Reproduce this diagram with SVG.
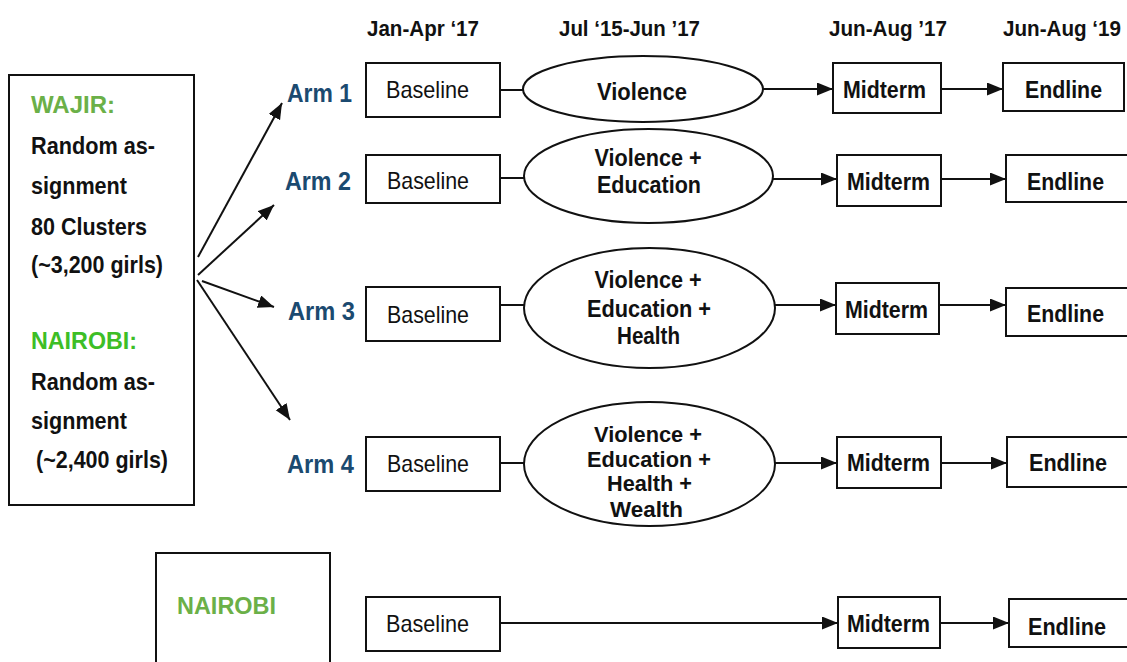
<svg xmlns="http://www.w3.org/2000/svg" width="1127" height="662" viewBox="0 0 1127 662">
<style>
text{font-family:"Liberation Sans",Arial,sans-serif;fill:#111}
.b{font-weight:bold}
.h{font-size:22px;font-weight:bold}
.lt{font-size:24px;font-weight:bold}
.arm{font-size:26px;font-weight:bold;fill:#1b4a70}
.reg{font-size:24px}
.bx{font-size:24px;font-weight:bold}
.el{font-size:24px;font-weight:bold;text-anchor:middle}
.el4{font-size:21.5px;font-weight:bold;text-anchor:middle}
.g1{fill:#6bb048}
.g2{fill:#3dbe26}
.box{fill:#fff;stroke:#111;stroke-width:2}
.ell{fill:#fff;stroke:#111;stroke-width:2}
.ln{fill:none;stroke:#111;stroke-width:2}
.ar{fill:none;stroke:#111;stroke-width:2;marker-end:url(#ah)}
</style>
<defs>
<marker id="ah" markerUnits="userSpaceOnUse" markerWidth="17" markerHeight="14" refX="16" refY="6.5" orient="auto">
<path d="M0,0 L16,6.5 L0,13 z" fill="#111"/>
</marker>
</defs>
<rect width="1127" height="662" fill="#fff"/>

<g id="headers">
<text class="h" x="367" y="36" textLength="112" lengthAdjust="spacingAndGlyphs">Jan-Apr ‘17</text>
<text class="h" x="559" y="36" textLength="141" lengthAdjust="spacingAndGlyphs">Jul ‘15-Jun ’17</text>
<text class="h" x="829" y="36" textLength="118" lengthAdjust="spacingAndGlyphs">Jun-Aug ’17</text>
<text class="h" x="1003" y="36" textLength="118" lengthAdjust="spacingAndGlyphs">Jun-Aug ‘19</text>
</g>

<g id="left-box">
<rect class="box" x="9" y="75" width="185" height="430"/>
<text class="lt g1" x="31" y="113" textLength="84" lengthAdjust="spacingAndGlyphs">WAJIR:</text>
<text class="lt" x="31" y="154" textLength="124" lengthAdjust="spacingAndGlyphs">Random as-</text>
<text class="lt" x="31" y="194" textLength="96" lengthAdjust="spacingAndGlyphs">signment</text>
<text class="lt" x="31" y="235" textLength="116" lengthAdjust="spacingAndGlyphs">80 Clusters</text>
<text class="lt" x="31" y="273" textLength="132" lengthAdjust="spacingAndGlyphs">(~3,200 girls)</text>
<text class="lt g2" x="31" y="349" textLength="106" lengthAdjust="spacingAndGlyphs">NAIROBI:</text>
<text class="lt" x="31" y="390" textLength="124" lengthAdjust="spacingAndGlyphs">Random as-</text>
<text class="lt" x="31" y="429" textLength="96" lengthAdjust="spacingAndGlyphs">signment</text>
<text class="lt" x="36" y="468" textLength="132" lengthAdjust="spacingAndGlyphs">(~2,400 girls)</text>
</g>

<g id="nairobi-box">
<rect class="box" x="156" y="553" width="174" height="120"/>
<text class="lt g1" x="177" y="614" textLength="99" lengthAdjust="spacingAndGlyphs">NAIROBI</text>
</g>

<g id="arm-labels">
<text class="arm" x="287" y="102" textLength="65" lengthAdjust="spacingAndGlyphs">Arm 1</text>
<text class="arm" x="285" y="190" textLength="66" lengthAdjust="spacingAndGlyphs">Arm 2</text>
<text class="arm" x="288" y="320" textLength="67" lengthAdjust="spacingAndGlyphs">Arm 3</text>
<text class="arm" x="287" y="473" textLength="67" lengthAdjust="spacingAndGlyphs">Arm 4</text>
</g>

<g id="connectors">
<line class="ar" x1="198" y1="257" x2="282" y2="103"/>
<line class="ar" x1="198" y1="275" x2="274" y2="205"/>
<line class="ar" x1="202" y1="281" x2="274" y2="307"/>
<line class="ar" x1="197" y1="280" x2="290" y2="420"/>

<line class="ln" x1="500" y1="90" x2="524" y2="90"/>
<line class="ln" x1="500" y1="178" x2="524" y2="178"/>
<line class="ln" x1="500" y1="305" x2="524" y2="305"/>
<line class="ln" x1="500" y1="463" x2="524" y2="463"/>

<line class="ar" x1="763" y1="89" x2="833" y2="89"/>
<line class="ar" x1="941" y1="89" x2="1003" y2="89"/>
<line class="ar" x1="773" y1="179" x2="837" y2="179"/>
<line class="ar" x1="941" y1="179" x2="1006" y2="179"/>
<line class="ar" x1="775" y1="305" x2="836" y2="305"/>
<line class="ar" x1="939" y1="305" x2="1006" y2="305"/>
<line class="ar" x1="775" y1="463" x2="837" y2="463"/>
<line class="ar" x1="941" y1="463" x2="1007" y2="463"/>
<line class="ar" x1="500" y1="623" x2="838" y2="623"/>
<line class="ar" x1="940" y1="623" x2="1009" y2="623"/>
</g>

<g id="baseline-1"><rect class="box" x="366" y="63" width="134" height="54"/><text class="reg" x="386" y="98" textLength="83" lengthAdjust="spacingAndGlyphs">Baseline</text></g>
<g id="baseline-2"><rect class="box" x="366" y="155" width="134" height="48"/><text class="reg" x="387" y="189" textLength="82" lengthAdjust="spacingAndGlyphs">Baseline</text></g>
<g id="baseline-3"><rect class="box" x="366" y="287" width="134" height="54"/><text class="reg" x="387" y="323" textLength="82" lengthAdjust="spacingAndGlyphs">Baseline</text></g>
<g id="baseline-4"><rect class="box" x="366" y="437" width="134" height="54"/><text class="reg" x="387" y="472" textLength="82" lengthAdjust="spacingAndGlyphs">Baseline</text></g>
<g id="baseline-5"><rect class="box" x="366" y="597" width="134" height="54"/><text class="reg" x="386" y="632" textLength="83" lengthAdjust="spacingAndGlyphs">Baseline</text></g>

<g id="intervention-1">
<ellipse class="ell" cx="643" cy="89" rx="120" ry="33"/>
<text class="el" x="642" y="100" textLength="90" lengthAdjust="spacingAndGlyphs">Violence</text>
</g>
<g id="intervention-2">
<ellipse class="ell" cx="648.5" cy="176" rx="124.5" ry="47"/>
<text class="el" x="648" y="166" textLength="107" lengthAdjust="spacingAndGlyphs">Violence +</text>
<text class="el" x="649" y="193" textLength="104" lengthAdjust="spacingAndGlyphs">Education</text>
</g>
<g id="intervention-3">
<ellipse class="ell" cx="649.5" cy="308" rx="125.5" ry="60"/>
<text class="el" x="648" y="288" textLength="107" lengthAdjust="spacingAndGlyphs">Violence +</text>
<text class="el" x="649" y="317" textLength="124" lengthAdjust="spacingAndGlyphs">Education +</text>
<text class="el" x="648.5" y="344" textLength="63" lengthAdjust="spacingAndGlyphs">Health</text>
</g>
<g id="intervention-4">
<ellipse class="ell" cx="649.5" cy="464" rx="125.5" ry="62"/>
<text class="el4" x="648" y="442" textLength="108" lengthAdjust="spacingAndGlyphs">Violence +</text>
<text class="el4" x="649" y="467" textLength="124" lengthAdjust="spacingAndGlyphs">Education +</text>
<text class="el4" x="649.5" y="491" textLength="85" lengthAdjust="spacingAndGlyphs">Health +</text>
<text class="el4" x="646.5" y="517" textLength="73" lengthAdjust="spacingAndGlyphs">Wealth</text>
</g>

<g id="midterm-1"><rect class="box" x="833" y="63" width="108" height="50"/><text class="bx" x="843" y="98" textLength="83" lengthAdjust="spacingAndGlyphs">Midterm</text></g>
<g id="midterm-2"><rect class="box" x="837" y="155" width="104" height="51"/><text class="bx" x="847" y="190" textLength="83" lengthAdjust="spacingAndGlyphs">Midterm</text></g>
<g id="midterm-3"><rect class="box" x="836" y="283" width="103" height="51"/><text class="bx" x="845" y="318" textLength="83" lengthAdjust="spacingAndGlyphs">Midterm</text></g>
<g id="midterm-4"><rect class="box" x="837" y="437" width="104" height="51"/><text class="bx" x="847" y="471" textLength="83" lengthAdjust="spacingAndGlyphs">Midterm</text></g>
<g id="midterm-5"><rect class="box" x="838" y="597" width="102" height="51"/><text class="bx" x="847" y="632" textLength="83" lengthAdjust="spacingAndGlyphs">Midterm</text></g>

<g id="endline-1"><rect class="box" x="1003" y="63" width="121" height="48"/><text class="bx" x="1025" y="98" textLength="77" lengthAdjust="spacingAndGlyphs">Endline</text></g>
<g id="endline-2"><rect class="box" x="1006" y="155" width="124" height="47"/><text class="bx" x="1027" y="190" textLength="77" lengthAdjust="spacingAndGlyphs">Endline</text></g>
<g id="endline-3"><rect class="box" x="1006" y="288" width="124" height="48"/><text class="bx" x="1027" y="322" textLength="77" lengthAdjust="spacingAndGlyphs">Endline</text></g>
<g id="endline-4"><rect class="box" x="1007" y="437" width="124" height="50"/><text class="bx" x="1029" y="471" textLength="78" lengthAdjust="spacingAndGlyphs">Endline</text></g>
<g id="endline-5"><rect class="box" x="1009" y="599" width="122" height="48"/><text class="bx" x="1028" y="635" textLength="78" lengthAdjust="spacingAndGlyphs">Endline</text></g>
</svg>
